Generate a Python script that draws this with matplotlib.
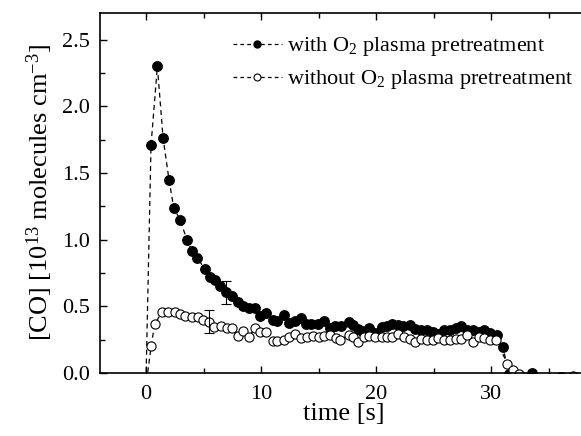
import numpy as np
import matplotlib
matplotlib.use("Agg")
import matplotlib.pyplot as plt
from matplotlib.lines import Line2D

plt.rcParams['font.family'] = ['Liberation Serif', 'DejaVu Serif']
plt.rcParams['mathtext.fontset'] = 'custom'
plt.rcParams['mathtext.rm'] = 'Liberation Serif'
plt.rcParams['mathtext.it'] = 'Liberation Serif:italic'

# with O2 plasma pretreatment (filled)
t_with = [0.0, 0.44, 0.99, 1.49, 2.0, 2.42, 2.97, 3.55, 4.0, 4.46, 5.1, 5.6, 6.0, 6.47, 6.97,
          7.5, 8.0, 8.46, 8.95, 9.45, 9.9, 10.4, 11.0, 11.4, 11.96, 12.45, 12.95, 13.47,
          13.9, 14.35, 14.93, 15.46, 15.95, 16.4, 16.97, 17.65, 18.0, 18.4, 18.8, 19.4, 19.9,
          20.5, 20.9, 21.4, 21.9, 22.3, 22.9, 23.4, 23.9, 24.4, 24.9, 25.4, 25.9, 26.4, 26.9,
          27.4, 27.9, 28.4, 28.9, 29.4, 29.9, 30.5, 31.0, 31.55, 33.5, 36.1]
co_with = [-0.06, 1.71, 2.30, 1.76, 1.45, 1.235, 1.15, 1.0, 0.915, 0.865, 0.78, 0.72, 0.70, 0.65, 0.61,
           0.578, 0.535, 0.505, 0.485, 0.485, 0.43, 0.45, 0.40, 0.39, 0.435, 0.377, 0.39, 0.41,
           0.37, 0.37, 0.37, 0.39, 0.34, 0.35, 0.35, 0.385, 0.36, 0.33, 0.315, 0.34, 0.30,
           0.345, 0.35, 0.37, 0.36, 0.35, 0.36, 0.33, 0.32, 0.325, 0.305, 0.295, 0.325, 0.325, 0.34,
           0.35, 0.325, 0.32, 0.305, 0.325, 0.30, 0.285, 0.197, -0.01, 0.0, -0.03]

# without O2 plasma pretreatment (open)
t_without = [0.05, 0.45, 0.75, 1.37, 1.95, 2.5, 2.97, 3.4, 4.0, 4.5, 4.96, 5.45, 5.95, 6.5, 7.0,
             7.5, 8.0, 8.46, 8.95, 9.45, 9.9, 10.4, 11.0, 11.4, 11.96, 12.45, 12.95, 13.47,
             14.0, 14.5, 15.0, 15.46, 15.95, 16.5, 16.9, 17.6, 18.0, 18.4, 18.9, 19.4, 19.9,
             20.5, 20.9, 21.4, 21.9, 22.4, 22.9, 23.4, 23.9, 24.4, 24.9, 25.4, 25.9, 26.4, 26.9,
             27.4, 27.9, 28.4, 28.9, 29.4, 29.9, 30.4, 31.4, 31.9, 32.4, 37.1]
co_without = [-0.06, 0.2, 0.365, 0.455, 0.455, 0.455, 0.44, 0.43, 0.42, 0.42, 0.40, 0.385, 0.343, 0.355, 0.34,
              0.335, 0.278, 0.315, 0.272, 0.335, 0.31, 0.31, 0.243, 0.24, 0.25, 0.27, 0.29, 0.26,
              0.27, 0.278, 0.27, 0.278, 0.285, 0.26, 0.25, 0.285, 0.272, 0.235, 0.272, 0.278, 0.272,
              0.272, 0.272, 0.272, 0.29, 0.272, 0.255, 0.23, 0.255, 0.25, 0.25, 0.265, 0.25, 0.25, 0.255,
              0.255, 0.285, 0.235, 0.27, 0.26, 0.25, 0.25, 0.07, 0.02, -0.01, -0.02]

# error bars
err_t = [6.97, 5.45]
err_y = [0.605, 0.385]
err_e = [0.085, 0.087]

fig = plt.figure(figsize=(5.81, 4.36), dpi=100)
ax = fig.add_axes([0.172, 0.1445, 0.838, 0.8255])

ax.plot(t_with, co_with, ls=(0, (4, 3)), color='black', lw=0.9,
        marker='o', ms=6.8, mfc='black', mec='black')
ax.plot(t_without, co_without, ls=(0, (4, 3)), color='black', lw=0.9,
        marker='o', ms=6.6, mfc='white', mec='black', mew=0.8)
ax.errorbar(err_t, err_y, yerr=err_e, fmt='none', ecolor='black', elinewidth=0.8,
            capsize=3.5, capthick=0.8)

ax.set_xlim(-4, 38.3)
ax.set_ylim(0, 2.7)
ax.set_xticks([0, 10, 20, 30])
ax.set_xticks([5, 15, 25, 35], minor=True)
ax.set_yticks([0, 0.5, 1.0, 1.5, 2.0, 2.5])
ax.set_yticks([0.25, 0.75, 1.25, 1.75, 2.25], minor=True)
ax.set_yticklabels(['0.0', '0.5', '1.0', '1.5', '2.0', '2.5'])
ax.tick_params(which='both', direction='in', top=True, right=False, labelsize=16,
               width=1.0, color='black')
ax.tick_params(which='major', length=5)
ax.tick_params(which='minor', length=3.5)
ax.tick_params(axis='x', which='major', pad=9)
ax.tick_params(axis='y', which='major', pad=7)
for s in ax.spines.values():
    s.set_linewidth(1.2)

ax.set_xlabel('time [s]', fontsize=19, labelpad=-1)
ax.set_ylabel('[CO] [10$^{13}$ molecules cm$^{-3}$]', fontsize=19, labelpad=5)

h1 = Line2D([], [], ls=(0, (3, 2.5)), color='black', lw=0.9, marker='o', ms=5, mfc='black')
h2 = Line2D([], [], ls=(0, (3, 2.5)), color='black', lw=0.9, marker='o', ms=5, mfc='white', mew=0.8)
ax.legend([h1, h2], ['with O$_2$ plasma pretreatment', 'without O$_2$ plasma pretreatment'],
          loc='upper right', bbox_to_anchor=(1.0, 0.975), frameon=False, fontsize=16,
          handlelength=2.2, handletextpad=0.25, labelspacing=0.45, borderaxespad=0.2)

fig.savefig('out.png', dpi=100)
